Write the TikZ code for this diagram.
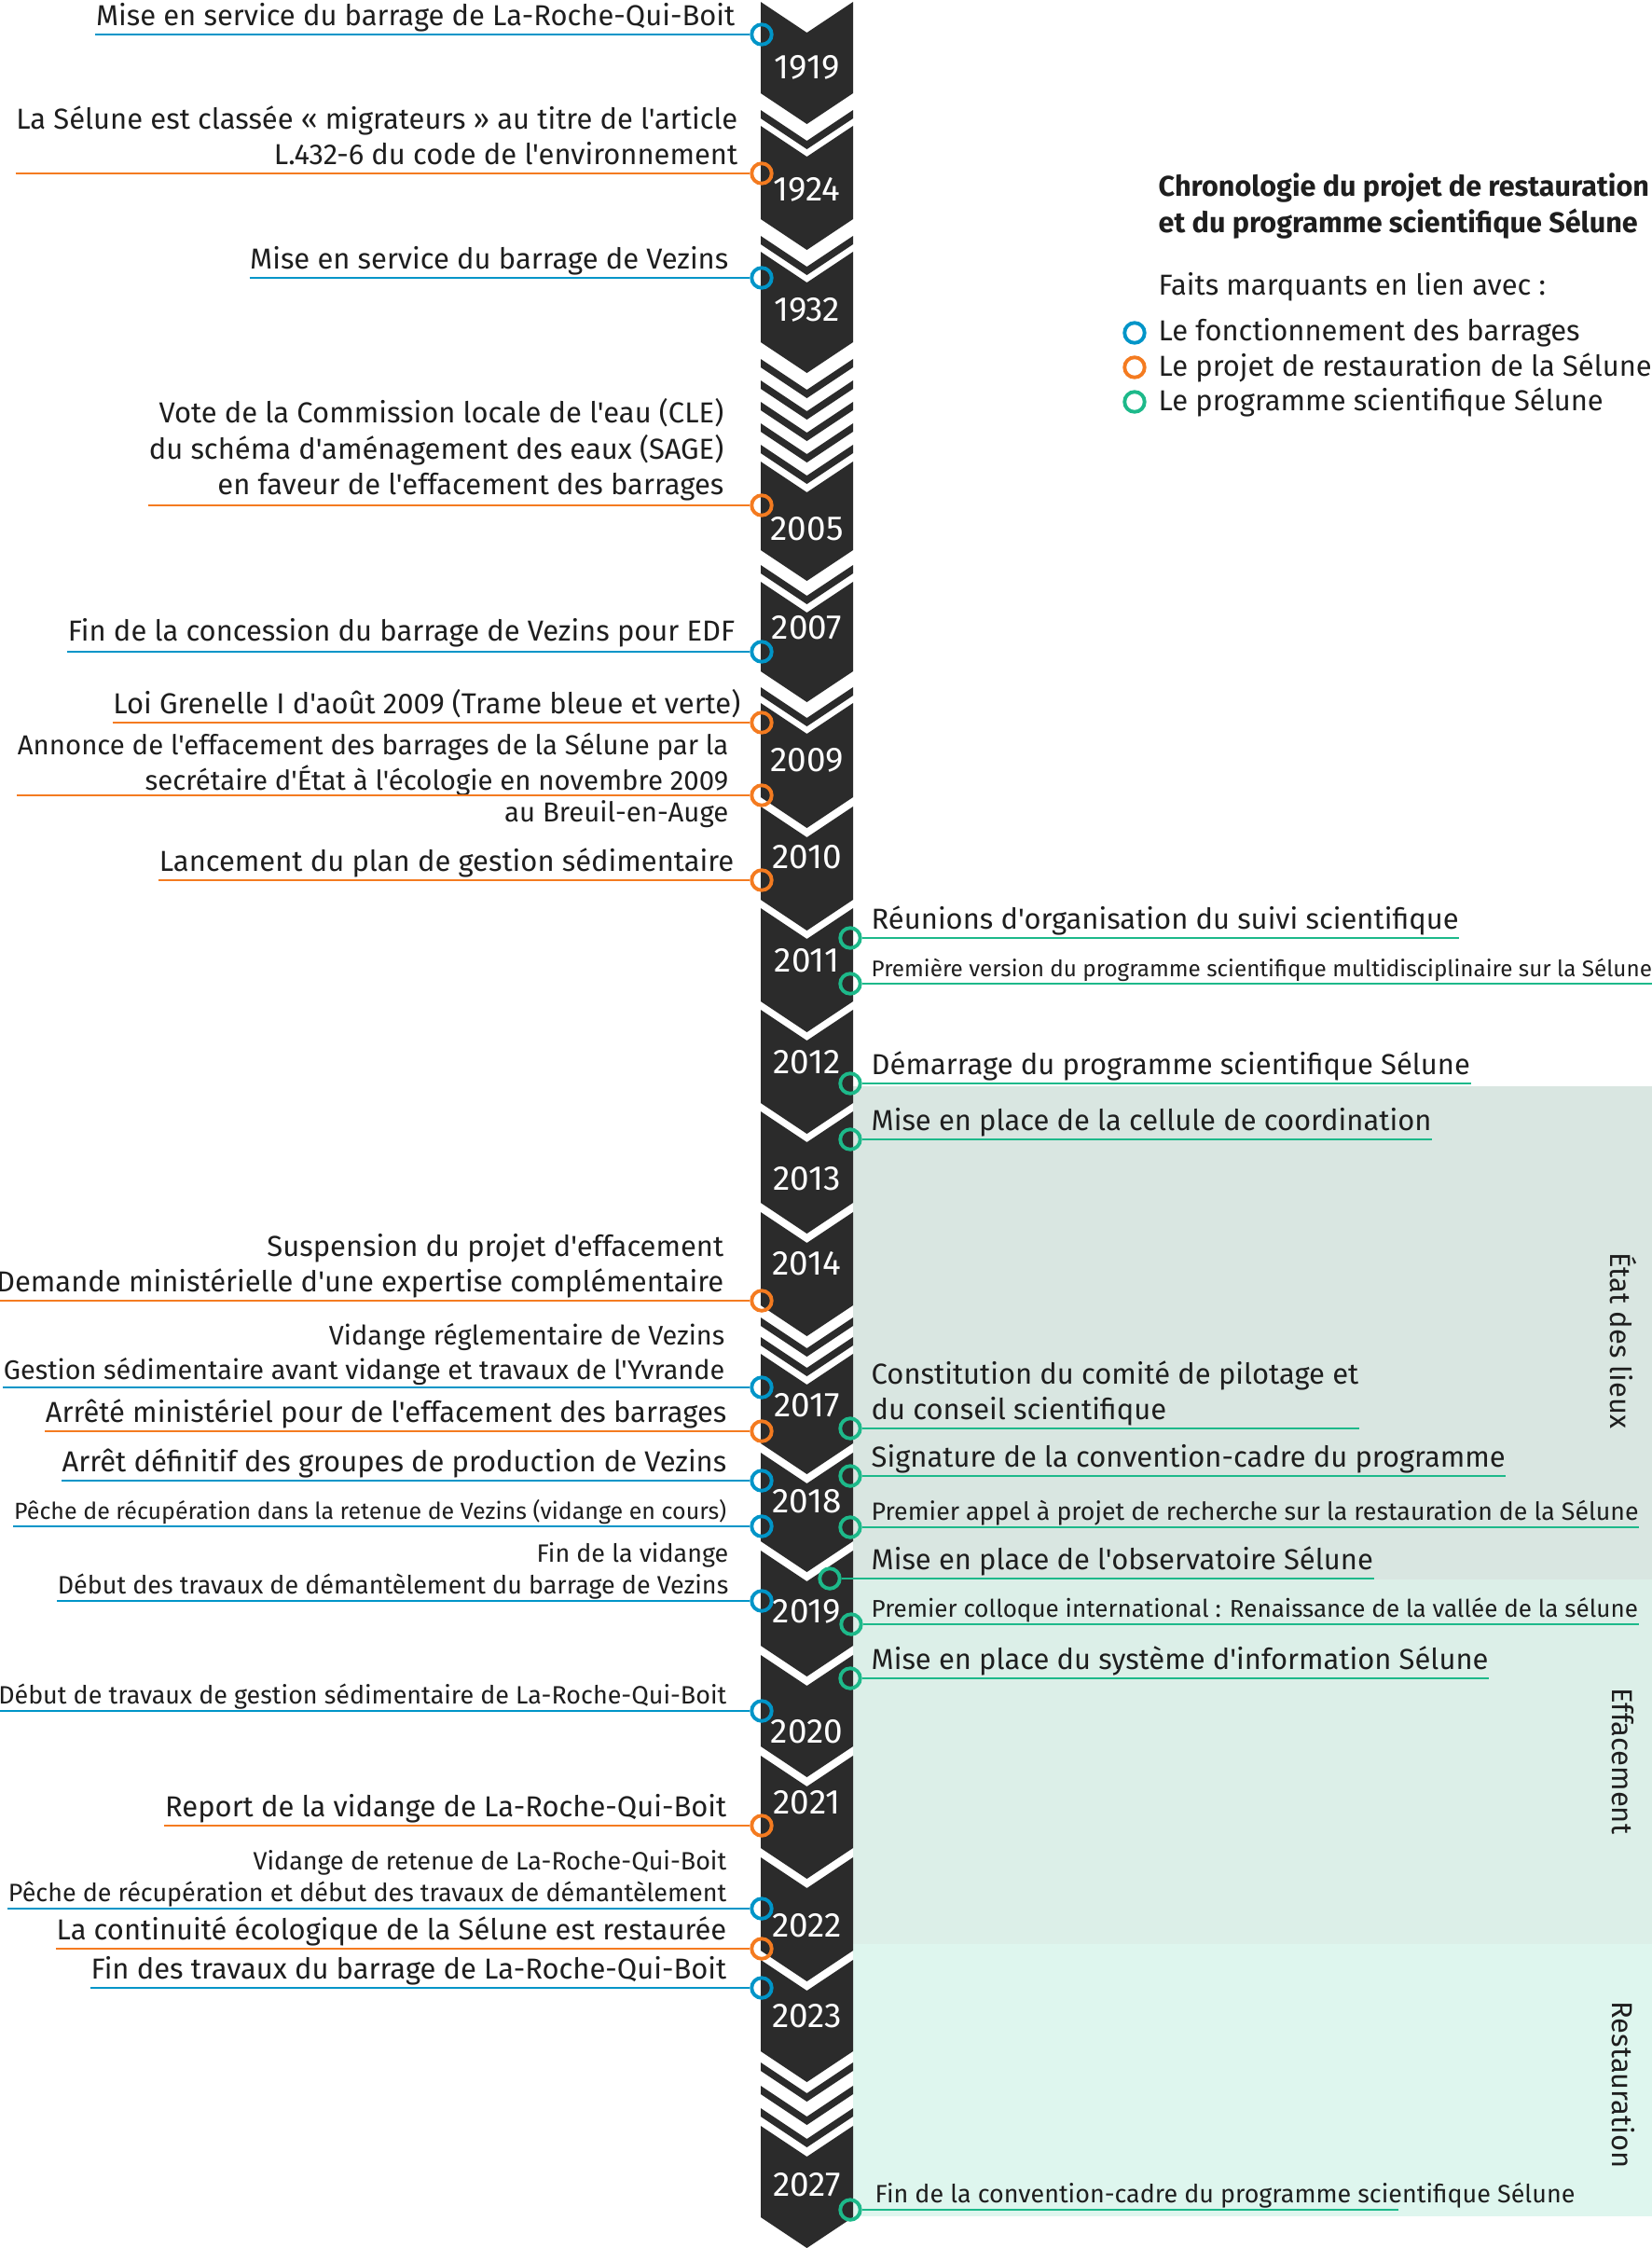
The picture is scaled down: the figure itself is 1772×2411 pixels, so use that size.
\documentclass[tikz,border=0pt]{standalone}
\usepackage{fontspec}
\setmainfont{Fira Sans}[Ligatures=TeXOff]
\usetikzlibrary{positioning}
\definecolor{selInk}{HTML}{2B2B2B}
\definecolor{selText}{HTML}{1E1E1E}
\definecolor{selBlue}{HTML}{0095C8}
\definecolor{selOrange}{HTML}{F47B20}
\definecolor{selGreen}{HTML}{1DB98A}
\definecolor{selEtat}{HTML}{D9E6E1}
\definecolor{selEffac}{HTML}{DCEFE8}
\definecolor{selResto}{HTML}{DEF6EE}
% one dark chevron of the time column: top and bottom side heights
\newcommand{\chevblock}[2]{\fill[selInk] (816,#1) -- (865.5,#1+33) -- (915,#1) -- (915,#2) -- (865.5,#2+33) -- (816,#2) -- cycle;}
\tikzset{
    lbl/.style={anchor=south east, yshift=-0.03cm, inner sep=0pt, align=right, text=selText, font=\fontsize{8.8}{11}\selectfont, execute at end node=\strut},
    rlbl/.style={lbl, anchor=south west, align=left},
    fsb/.style={font=\fontsize{8.2}{10.5}\selectfont},
    fsc/.style={font=\fontsize{7.65}{9.5}\selectfont},
    fsd/.style={font=\fontsize{7.1}{9}\selectfont},
    year/.style={text=white, inner sep=0pt, font=\fontsize{10.5}{12}\selectfont},
    phase/.style={rotate=-90, inner sep=0pt, text=selText, font=\fontsize{8.8}{11}\selectfont},
    keytext/.style={anchor=west, inner sep=0pt, text=selText, font=\fontsize{8.8}{11}\selectfont},
    dot/.style={circle, inner sep=0pt, minimum size=0.215cm, line width=1.1pt},
    bdot/.style={dot, draw=selBlue},
    odot/.style={dot, draw=selOrange},
    gdot/.style={dot, draw=selGreen},
    bline/.style={draw=selBlue, line width=0.8pt},
    oline/.style={draw=selOrange, line width=0.8pt},
    gline/.style={draw=selGreen, line width=0.8pt}
}
\begin{document}
\begin{tikzpicture}[x=0.01cm, y=-0.01cm]
\useasboundingbox (0,0) rectangle (1772,2411);
% phases
\fill[selEtat] (915,1165) rectangle (1772,1694);
\fill[selEffac] (915,1694) rectangle (1772,2085);
\fill[selResto] (915,2085) rectangle (1772,2377);
\node[phase] (etat) at (1741,1438) {État des lieux};
\node[phase] (effac) at (1741,1889) {Effacement};
\node[phase] (resto) at (1741,2236) {Restauration};
% time column
\chevblock{2}{100} \chevblock{118}{127}
\chevblock{135}{235} \chevblock{253}{262}
\chevblock{270}{367}
\chevblock{385}{394} \chevblock{408}{417} \chevblock{431}{440} \chevblock{454}{463} \chevblock{477}{486}
\chevblock{495}{590} \chevblock{606}{615}
\chevblock{624}{720} \chevblock{737}{746}
\chevblock{754}{855}
\chevblock{865}{965}
\chevblock{974}{1074}
\chevblock{1083}{1183}
\chevblock{1192}{1290}
\chevblock{1300}{1400} \chevblock{1413}{1422} \chevblock{1434}{1443}
\chevblock{1452}{1548}
\chevblock{1558}{1653}
\chevblock{1663}{1765}
\chevblock{1775}{1873}
\chevblock{1883}{1982}
\chevblock{1992}{2092}
\chevblock{2102}{2200} \chevblock{2212}{2221} \chevblock{2237}{2246} \chevblock{2261}{2270}
\chevblock{2280}{2378}
\node[year] (y1919) at (865.5,72) {1919};
\node[year] (y1924) at (865.5,203) {1924};
\node[year] (y1932) at (865.5,332) {1932};
\node[year] (y2005) at (865.5,567) {2005};
\node[year] (y2007) at (865.5,673) {2007};
\node[year] (y2009) at (865.5,815) {2009};
\node[year] (y2010) at (865.5,919) {2010};
\node[year] (y2011) at (865.5,1030) {2011};
\node[year] (y2012) at (865.5,1139) {2012};
\node[year] (y2013) at (865.5,1264) {2013};
\node[year] (y2014) at (865.5,1355) {2014};
\node[year] (y2017) at (865.5,1507) {2017};
\node[year] (y2018) at (865.5,1610) {2018};
\node[year] (y2019) at (865.5,1728) {2019};
\node[year] (y2020) at (865.5,1857) {2020};
\node[year] (y2021) at (865.5,1933) {2021};
\node[year] (y2022) at (865.5,2065) {2022};
\node[year] (y2023) at (865.5,2162) {2023};
\node[year] (y2027) at (865.5,2343) {2027};
% left side: barrages and restauration
\node[lbl] (l1) at (789,37) {Mise en service du barrage de La-Roche-Qui-Boit};
\node[bdot] (d1) at (817,37) {};
\draw[bline] (l1.south west |- d1.west) -- (d1.west);
\node[lbl] (l2) at (792,186) {La Sélune est classée « migrateurs » au titre de l'article\\L.432-6 du code de l'environnement};
\node[odot] (d2) at (817,186) {};
\draw[oline] (l2.south west |- d2.west) -- (d2.west);
\node[lbl] (l3) at (782,298) {Mise en service du barrage de Vezins};
\node[bdot] (d3) at (817,298) {};
\draw[bline] (l3.south west |- d3.west) -- (d3.west);
\node[lbl] (l4) at (777,540) {Vote de la Commission locale de l'eau (CLE)\\du schéma d'aménagement des eaux (SAGE)\\en faveur de l'effacement des barrages};
\node[odot] (d4) at (817,542) {};
\draw[oline] (l4.south west |- d4.west) -- (d4.west);
\node[lbl] (l5) at (789,697) {Fin de la concession du barrage de Vezins pour EDF};
\node[bdot] (d5) at (817,699) {};
\draw[bline] (l5.south west |- d5.west) -- (d5.west);
\node[lbl] (l6) at (795,775) {Loi Grenelle I d'août 2009 (Trame bleue et verte)};
\node[odot] (d6) at (817,775) {};
\draw[oline] (l6.south west |- d6.west) -- (d6.west);
\node[lbl, font=\fontsize{8.35}{10.9}\selectfont] (l7) at (782,857) {Annonce de l'effacement des barrages de la Sélune par la\\secrétaire d'État à l'écologie en novembre 2009};
\node[lbl, anchor=base east, font=\fontsize{8.35}{10.9}\selectfont] (l7b) at (782,878) {au Breuil-en-Auge};
\node[odot] (d7) at (817,853) {};
\draw[oline] (l7.south west |- d7.west) -- (d7.west);
\node[lbl] (l8) at (788,944) {Lancement du plan de gestion sédimentaire};
\node[odot] (d8) at (817,944) {};
\draw[oline] (l8.south west |- d8.west) -- (d8.west);
\node[lbl] (l9) at (777,1395) {Suspension du projet d'effacement\\Demande ministérielle d'une expertise complémentaire};
\node[odot] (d9) at (817,1395) {};
\draw[oline] (l9.south west |- d9.west) -- (d9.west);
\node[lbl, fsb] (l10) at (778,1488) {Vidange réglementaire de Vezins\\Gestion sédimentaire avant vidange et travaux de l'Yvrande};
\node[bdot] (d10) at (817,1488) {};
\draw[bline] (l10.south west |- d10.west) -- (d10.west);
\node[lbl] (l11) at (780,1535) {Arrêté ministériel pour de l'effacement des barrages};
\node[odot] (d11) at (817,1535) {};
\draw[oline] (l11.south west |- d11.west) -- (d11.west);
\node[lbl] (l12) at (780,1588) {Arrêt définitif des groupes de production de Vezins};
\node[bdot] (d12) at (817,1588) {};
\draw[bline] (l12.south west |- d12.west) -- (d12.west);
\node[lbl, fsd] (l13) at (780,1637) {Pêche de récupération dans la retenue de Vezins (vidange en cours)};
\node[bdot] (d13) at (817,1637) {};
\draw[bline] (l13.south west |- d13.west) -- (d13.west);
\node[lbl, fsc] (l14) at (782,1717) {Fin de la vidange\\Début des travaux de démantèlement du barrage de Vezins};
\node[bdot] (d14) at (817,1717) {};
\draw[bline] (l14.south west |- d14.west) -- (d14.west);
\node[lbl, fsc] (l15) at (780,1835) {Début de travaux de gestion sédimentaire de La-Roche-Qui-Boit};
\node[bdot] (d15) at (817,1835) {};
\draw[bline] (l15.south west |- d15.west) -- (d15.west);
\node[lbl] (l16) at (780,1958) {Report de la vidange de La-Roche-Qui-Boit};
\node[odot] (d16) at (817,1958) {};
\draw[oline] (l16.south west |- d16.west) -- (d16.west);
\node[lbl, fsc] (l17) at (780,2047) {Vidange de retenue de La-Roche-Qui-Boit\\Pêche de récupération et début des travaux de démantèlement};
\node[bdot] (d17) at (817,2047) {};
\draw[bline] (l17.south west |- d17.west) -- (d17.west);
\node[lbl] (l18) at (780,2090) {La continuité écologique de la Sélune est restaurée};
\node[odot] (d18) at (817,2090) {};
\draw[oline] (l18.south west |- d18.west) -- (d18.west);
\node[lbl] (l19) at (780,2132) {Fin des travaux du barrage de La-Roche-Qui-Boit};
\node[bdot] (d19) at (817,2132) {};
\draw[bline] (l19.south west |- d19.west) -- (d19.west);
% right side: programme scientifique
\node[rlbl] (r1) at (934,1006) {Réunions d'organisation du suivi scientifique};
\node[gdot] (e1) at (912,1006) {};
\draw[gline] (e1.east) -- (e1.east -| r1.south east);
\node[rlbl, font=\fontsize{6.9}{9}\selectfont] (r2) at (934,1055) {Première version du programme scientifique multidisciplinaire sur la Sélune};
\node[gdot] (e2) at (912,1055) {};
\draw[gline] (e2.east) -- (e2.east -| r2.south east);
\node[rlbl] (r3) at (934,1162) {Démarrage du programme scientifique Sélune};
\node[gdot] (e3) at (912,1162) {};
\draw[gline] (e3.east) -- (e3.east -| r3.south east);
\node[rlbl] (r4) at (934,1222) {Mise en place de la cellule de coordination};
\node[gdot] (e4) at (912,1222) {};
\draw[gline] (e4.east) -- (e4.east -| r4.south east);
\node[rlbl] (r5) at (934,1532) {Constitution du comité de pilotage et\\du conseil scientifique};
\node[gdot] (e5) at (912,1532) {};
\draw[gline] (e5.east) -- (e5.east -| r5.south east);
\node[rlbl] (r6) at (934,1583) {Signature de la convention-cadre du programme};
\node[gdot] (e6) at (912,1583) {};
\draw[gline] (e6.east) -- (e6.east -| r6.south east);
\node[rlbl, font=\fontsize{7.6}{9.5}\selectfont] (r7) at (934,1638) {Premier appel à projet de recherche sur la restauration de la Sélune};
\node[gdot] (e7) at (912,1638) {};
\draw[gline] (e7.east) -- (e7.east -| r7.south east);
\node[rlbl] (r8) at (934,1693) {Mise en place de l'observatoire Sélune};
\node[gdot] (e8) at (890,1693) {};
\draw[gline] (e8.east) -- (e8.east -| r8.south east);
\node[rlbl, font=\fontsize{7.4}{9}\selectfont] (r9) at (934,1742) {Premier colloque international : Renaissance de la vallée de la sélune};
\node[gdot] (e9) at (913,1742) {};
\draw[gline] (e9.east) -- (e9.east -| r9.south east);
\node[rlbl] (r10) at (934,1800) {Mise en place du système d'information Sélune};
\node[gdot] (e10) at (912,1800) {};
\draw[gline] (e10.east) -- (e10.east -| r10.south east);
\node[rlbl, font=\fontsize{7.65}{9.5}\selectfont] (r11) at (938,2370) {Fin de la convention-cadre du programme scientifique Sélune};
\node[gdot] (e11) at (912,2370) {};
\coordinate (r11end) at (1500,2370);
\draw[gline] (e11.east) -- (r11end);
% legend
\node[anchor=west, inner sep=0pt, align=left, text=selText, font=\fontsize{8.7}{11}\selectfont\bfseries] (title) at (1242,221) {Chronologie du projet de restauration\\et du programme scientifique Sélune};
\node[keytext] (faits) at (1242,308) {Faits marquants en lien avec :};
\node[bdot] (kb) at (1217,357) {};
\node[keytext] (kbt) at (1242,357) {Le fonctionnement des barrages};
\node[odot] (ko) at (1217,394) {};
\node[keytext] (kot) at (1242,394) {Le projet de restauration de la Sélune};
\node[gdot] (kg) at (1217,431) {};
\node[keytext] (kgt) at (1242,431) {Le programme scientifique Sélune};
\end{tikzpicture}
\end{document}
